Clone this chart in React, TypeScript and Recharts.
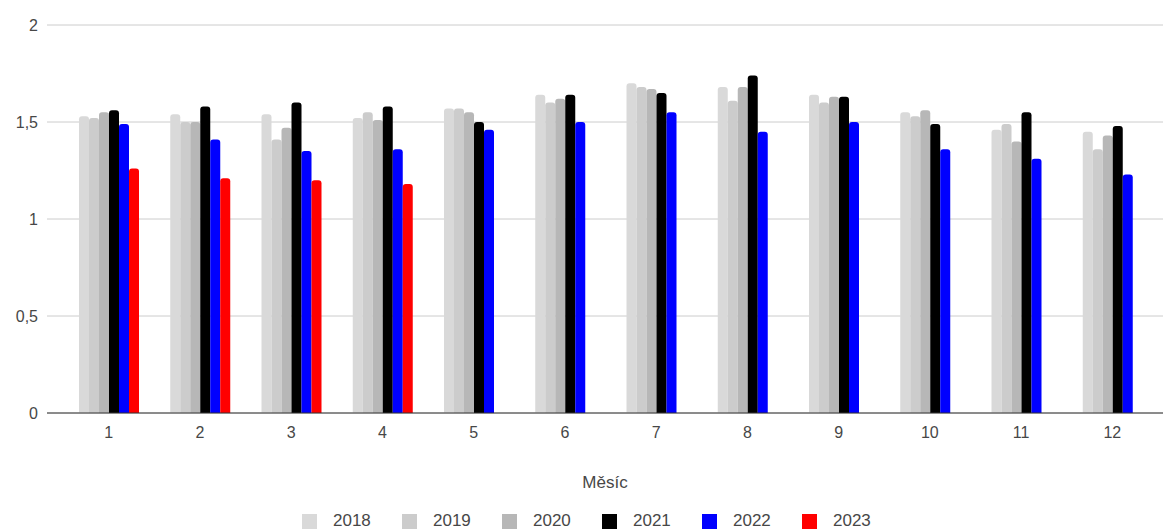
import { Bar, BarChart, CartesianGrid, Legend, XAxis, YAxis } from "recharts";

const months = ["1", "2", "3", "4", "5", "6", "7", "8", "9", "10", "11", "12"];
const years = ["2018", "2019", "2020", "2021", "2022", "2023"];
const yearColors = ["#d9d9d9", "#cccccc", "#b7b7b7", "#000000", "#0000ff", "#ff0000"];

const v2018 = [1.53, 1.54, 1.54, 1.52, 1.57, 1.64, 1.7, 1.68, 1.64, 1.55, 1.46, 1.45];
const v2019 = [1.52, 1.5, 1.41, 1.55, 1.57, 1.6, 1.68, 1.61, 1.6, 1.53, 1.49, 1.36];
const v2020 = [1.55, 1.5, 1.47, 1.51, 1.55, 1.62, 1.67, 1.68, 1.63, 1.56, 1.4, 1.43];
const v2021 = [1.56, 1.58, 1.6, 1.58, 1.5, 1.64, 1.65, 1.74, 1.63, 1.49, 1.55, 1.48];
const v2022 = [1.49, 1.41, 1.35, 1.36, 1.46, 1.5, 1.55, 1.45, 1.5, 1.36, 1.31, 1.23];
const v2023 = [1.26, 1.21, 1.2, 1.18, null, null, null, null, null, null, null, null];

const yTicks = [0, 0.5, 1, 1.5, 2];

const series = [v2018, v2019, v2020, v2021, v2022, v2023];

const data = months.map((m, i) => {
    const row: Record<string, any> = { month: m };
    years.forEach((y, k) => {
        row[y] = series[k][i];
    });
    return row;
});

const textColor = "#474747";

function LegendRow() {
    return (
        <div style={{ display: "flex", alignItems: "center", height: 20, paddingLeft: 302, fontSize: 17, color: textColor }}>
            {years.map((y, k) => (
                <div key={y} style={{ display: "flex", alignItems: "center", width: 100, flexShrink: 0 }}>
                    <span style={{ width: 15, height: 15, marginRight: 16, background: yearColors[k], display: "inline-block" }} />
                    <span>{y}</span>
                </div>
            ))}
        </div>
    );
}

export default function App() {
    return (
        <div style={{ position: "absolute", left: 0, top: 0, fontFamily: "'Liberation Sans', Arial, sans-serif" }}>
            <BarChart
                width={1163}
                height={531}
                data={data}
                margin={{ top: 25, right: 0, left: 0, bottom: 0 }}
                barGap={0}
                barCategoryGap={16}
            >
                <CartesianGrid vertical={false} stroke="#cccccc" />
                <XAxis
                    dataKey="month"
                    height={98}
                    padding={{ left: 16, right: 5 }}
                    tickLine={false}
                    tickSize={0}
                    tickMargin={14}
                    axisLine={{ stroke: "#333333" }}
                    tick={{ fill: textColor, fontSize: 16 }}
                    label={{ value: "Měsíc", position: "insideBottom", offset: 23, fill: textColor, fontSize: 17 }}
                />
                <YAxis
                    width={47}
                    domain={[0, 2]}
                    ticks={yTicks}
                    axisLine={false}
                    tickLine={false}
                    tickSize={0}
                    tickMargin={9}
                    tick={{ fill: textColor, fontSize: 16 }}
                    tickFormatter={(v: number) => String(v).replace(".", ",")}
                />
                <Legend verticalAlign="bottom" height={20} content={() => <LegendRow />} />
                {years.map((y, k) => (
                    <Bar key={y} dataKey={y} fill={yearColors[k]} radius={[3, 3, 0, 0]} isAnimationActive={false} />
                ))}
            </BarChart>
        </div>
    );
}
